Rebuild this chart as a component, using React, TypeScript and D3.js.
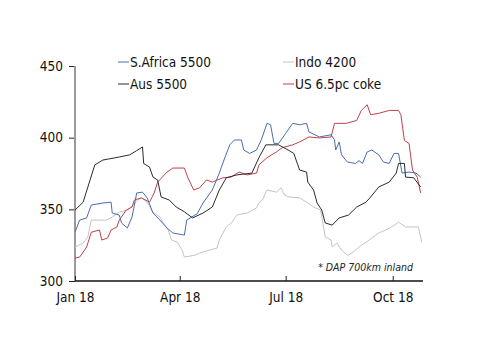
import React, { useEffect, useRef } from "react";
import * as d3 from "d3";

// values, [date, US$/t]
const saf5500: [string, number][] = [
  ["2018-01-01", 334], ["2018-01-05", 342.5], ["2018-01-11", 344], ["2018-01-15", 353],
  ["2018-01-25", 354.4], ["2018-02-01", 355], ["2018-02-02", 347.4], ["2018-02-08", 346],
  ["2018-02-10", 340.5], ["2018-02-15", 337], ["2018-02-19", 344.6], ["2018-02-21", 353],
  ["2018-02-23", 361.4], ["2018-02-28", 362], ["2018-03-04", 358], ["2018-03-09", 347.4],
  ["2018-03-15", 342.5], ["2018-03-21", 337], ["2018-03-26", 333.5], ["2018-04-05", 332],
  ["2018-04-07", 342.5], ["2018-04-16", 347], ["2018-04-21", 354.4], ["2018-04-29", 363.5],
  ["2018-05-05", 375.3], ["2018-05-09", 384.4], ["2018-05-14", 395], ["2018-05-18", 398.4],
  ["2018-05-24", 398.4], ["2018-05-26", 391.4], ["2018-05-31", 389], ["2018-06-06", 391.4],
  ["2018-06-10", 398.4], ["2018-06-15", 410], ["2018-06-18", 409], ["2018-06-21", 396],
  ["2018-06-25", 396], ["2018-07-01", 403], ["2018-07-07", 410], ["2018-07-13", 409],
  ["2018-07-19", 410], ["2018-07-21", 404], ["2018-07-30", 400.5], ["2018-08-09", 402],
  ["2018-08-12", 398.4], ["2018-08-13", 391.4], ["2018-08-16", 397], ["2018-08-18", 388],
  ["2018-08-23", 383], ["2018-08-30", 382], ["2018-09-02", 384], ["2018-09-05", 382],
  ["2018-09-09", 390], ["2018-09-13", 391.4], ["2018-09-19", 388], ["2018-09-23", 383],
  ["2018-09-28", 382], ["2018-10-02", 389], ["2018-10-06", 389], ["2018-10-09", 375.3],
  ["2018-10-15", 376], ["2018-10-21", 375.3], ["2018-10-25", 372.5],
];

const indo4200: [string, number][] = [
  ["2018-01-01", 323.7], ["2018-01-08", 326.5], ["2018-01-12", 330.7], ["2018-01-15", 342.5],
  ["2018-01-28", 342.5], ["2018-02-02", 344.6], ["2018-02-08", 348], ["2018-02-15", 349.5],
  ["2018-02-20", 353], ["2018-02-24", 356.5], ["2018-02-27", 358], ["2018-03-04", 355],
  ["2018-03-09", 348], ["2018-03-15", 344.6], ["2018-03-19", 339], ["2018-03-22", 335.6],
  ["2018-03-25", 328.6], ["2018-03-30", 327], ["2018-04-03", 321.6], ["2018-04-05", 316.7],
  ["2018-04-14", 318], ["2018-04-18", 319.5], ["2018-04-27", 321.6], ["2018-05-03", 323],
  ["2018-05-05", 328.6], ["2018-05-11", 337.7], ["2018-05-16", 341], ["2018-05-20", 346],
  ["2018-05-29", 347.4], ["2018-06-06", 351], ["2018-06-08", 354.4], ["2018-06-11", 356.5],
  ["2018-06-15", 363.5], ["2018-06-23", 362], ["2018-06-27", 365], ["2018-06-30", 360],
  ["2018-07-04", 358.6], ["2018-07-13", 358], ["2018-07-19", 355], ["2018-07-25", 351.6],
  ["2018-07-31", 349.5], ["2018-08-02", 340.5], ["2018-08-04", 330.7], ["2018-08-09", 328.6],
  ["2018-08-10", 323.7], ["2018-08-14", 326.5], ["2018-08-18", 321.6], ["2018-08-23", 318],
  ["2018-08-27", 319.5], ["2018-09-02", 323.7], ["2018-09-08", 327], ["2018-09-13", 330],
  ["2018-09-19", 333.5], ["2018-09-25", 335.6], ["2018-09-30", 337.7], ["2018-10-06", 341],
  ["2018-10-12", 337.7], ["2018-10-23", 337.7], ["2018-10-26", 327],
];

const aus5500: [string, number][] = [
  ["2018-01-01", 349.5], ["2018-01-08", 355], ["2018-01-18", 381], ["2018-01-25", 384.4],
  ["2018-02-08", 386.5], ["2018-02-17", 388], ["2018-02-23", 391], ["2018-02-28", 393.5],
  ["2018-03-01", 382], ["2018-03-06", 379.5], ["2018-03-09", 372.5], ["2018-03-13", 370.5],
  ["2018-03-16", 358.6], ["2018-03-23", 356.5], ["2018-03-29", 351.6], ["2018-04-05", 348.3],
  ["2018-04-12", 344], ["2018-04-21", 347.4], ["2018-04-29", 351.6], ["2018-05-05", 363.5],
  ["2018-05-11", 372], ["2018-05-20", 374], ["2018-06-02", 375.3], ["2018-06-08", 386],
  ["2018-06-14", 395], ["2018-06-25", 395], ["2018-07-04", 391], ["2018-07-08", 389],
  ["2018-07-13", 377.4], ["2018-07-19", 376], ["2018-07-20", 369], ["2018-07-25", 363.5],
  ["2018-07-28", 354.4], ["2018-08-01", 349.5], ["2018-08-04", 340.5], ["2018-08-10", 339],
  ["2018-08-16", 344], ["2018-08-24", 346], ["2018-08-31", 351.6], ["2018-09-08", 355],
  ["2018-09-12", 358.6], ["2018-09-19", 365.6], ["2018-09-28", 369], ["2018-10-04", 375.3],
  ["2018-10-06", 382], ["2018-10-11", 382], ["2018-10-12", 372.5], ["2018-10-19", 372],
  ["2018-10-25", 365.6],
];

const usCoke: [string, number][] = [
  ["2018-01-01", 316], ["2018-01-05", 316.7], ["2018-01-11", 323.7], ["2018-01-15", 334],
  ["2018-01-22", 335.6], ["2018-01-24", 328.6], ["2018-01-29", 330], ["2018-02-01", 335.6],
  ["2018-02-06", 337.7], ["2018-02-08", 342.5], ["2018-02-14", 349.5], ["2018-02-19", 351.6],
  ["2018-02-21", 356.5], ["2018-02-27", 358], ["2018-03-06", 355], ["2018-03-10", 361.4],
  ["2018-03-13", 369], ["2018-03-21", 376], ["2018-03-26", 378.8], ["2018-04-05", 378.8],
  ["2018-04-08", 372], ["2018-04-13", 363.5], ["2018-04-18", 365], ["2018-04-24", 370.5],
  ["2018-04-29", 369], ["2018-05-08", 372], ["2018-05-15", 372.5], ["2018-05-22", 376],
  ["2018-05-29", 374], ["2018-06-06", 375.3], ["2018-06-08", 381], ["2018-06-15", 386],
  ["2018-06-23", 390], ["2018-06-28", 393], ["2018-07-07", 395], ["2018-07-13", 397],
  ["2018-07-21", 400.5], ["2018-07-30", 399.8], ["2018-08-09", 400.5], ["2018-08-12", 410],
  ["2018-08-22", 410], ["2018-08-31", 412], ["2018-09-04", 419], ["2018-09-09", 423],
  ["2018-09-12", 416], ["2018-09-19", 417], ["2018-09-28", 419], ["2018-10-06", 419],
  ["2018-10-08", 416], ["2018-10-11", 398], ["2018-10-15", 396], ["2018-10-18", 377.4],
  ["2018-10-22", 372.5], ["2018-10-25", 361.4],
];

const seriesNames = ["S.Africa 5500", "Indo 4200", "Aus 5500", "US 6.5pc coke"];
const seriesColors = ["#4a6db0", "#c4c4c4", "#2b2b2b", "#c0414b"];
const allSeries = [saf5500, indo4200, aus5500, usCoke];
// draw order: grey underneath
const drawOrder = [1, 3, 0, 2];

const yTicks = [300, 350, 400, 450];
const xTicks = ["2018-01-01", "2018-04-01", "2018-07-01", "2018-10-01"];
const xStart = "2018-01-01";
const xEnd = "2018-10-27";
const note = "* DAP 700km inland";

const font = "Tahoma, 'DejaVu Sans Condensed', 'DejaVu Sans', sans-serif";

export default function App() {
  const ref = useRef<SVGSVGElement>(null);

  useEffect(() => {
    const svg = d3.select(ref.current);
    svg.selectAll("*").remove();

    const parse = d3.timeParse("%Y-%m-%d");
    const x = d3
      .scaleTime()
      .domain([parse(xStart)!, parse(xEnd)!])
      .range([75, 423]);
    const y = d3.scaleLinear().domain([300, 450]).range([281, 66]);

    // y axis: grey spine, ticks on the left
    const yAxis = svg.append("g").attr("transform", "translate(75,0)");
    yAxis
      .call(
        d3
          .axisLeft(y)
          .tickValues(yTicks)
          .tickSize(6)
          .tickPadding(6)
          .tickFormat(d3.format("d"))
      )
      .call(g => g.select(".domain").remove())
      .call(g => g.selectAll(".tick line").attr("stroke", "#222"))
      .call(g =>
        g
          .selectAll(".tick text")
          .attr("font-family", font)
          .attr("font-size", 13.5)
          .attr("fill", "#111")
      );
    yAxis
      .append("line")
      .attr("x1", 0)
      .attr("x2", 0)
      .attr("y1", y(450))
      .attr("y2", y(300))
      .attr("stroke", "#9a9a9a")
      .attr("stroke-width", 2);

    // series
    const line = d3
      .line<[string, number]>()
      .x(d => x(parse(d[0])!))
      .y(d => y(d[1]));

    drawOrder.forEach(i => {
      svg
        .append("path")
        .datum(allSeries[i])
        .attr("fill", "none")
        .attr("stroke", seriesColors[i])
        .attr("stroke-width", 1)
        .attr("stroke-linejoin", "round")
        .attr("d", line);
    });

    // x axis
    const xAxis = svg.append("g").attr("transform", "translate(0,281)");
    xAxis
      .call(
        d3
          .axisBottom(x)
          .tickValues(xTicks.map(s => parse(s)!))
          .tickSize(-5)
          .tickPadding(11)
          .tickFormat(d => d3.timeFormat("%b %y")(d as Date))
      )
      .call(g => g.select(".domain").attr("d", `M75,0H423`).attr("stroke", "#111").attr("stroke-width", 1.5))
      .call(g => g.selectAll(".tick line").attr("stroke", "#222"))
      .call(g =>
        g
          .selectAll(".tick text")
          .attr("font-family", font)
          .attr("font-size", 13.5)
          .attr("fill", "#111")
      );

    // legend, two columns
    const legend = svg.append("g");
    seriesNames.forEach((name, i) => {
      const col = i % 2;
      const row = Math.floor(i / 2);
      const lx = col === 0 ? 118 : 283;
      const ly = 62 + row * 22;
      legend
        .append("line")
        .attr("x1", lx)
        .attr("x2", lx + 11)
        .attr("y1", ly)
        .attr("y2", ly)
        .attr("stroke", seriesColors[i])
        .attr("stroke-width", 1);
      legend
        .append("text")
        .attr("x", lx + 12)
        .attr("y", ly + 5)
        .attr("font-family", font)
        .attr("font-size", 13.5)
        .attr("fill", "#111")
        .text(name);
    });

    svg
      .append("text")
      .attr("x", 413)
      .attr("y", 271)
      .attr("text-anchor", "end")
      .attr("font-family", font)
      .attr("font-style", "italic")
      .attr("font-size", 10.5)
      .attr("fill", "#222")
      .text(note);
  }, []);

  return (
    <svg
      ref={ref}
      width={500}
      height={354}
      style={{ position: "absolute", left: 0, top: 0, background: "#fff" }}
    />
  );
}
